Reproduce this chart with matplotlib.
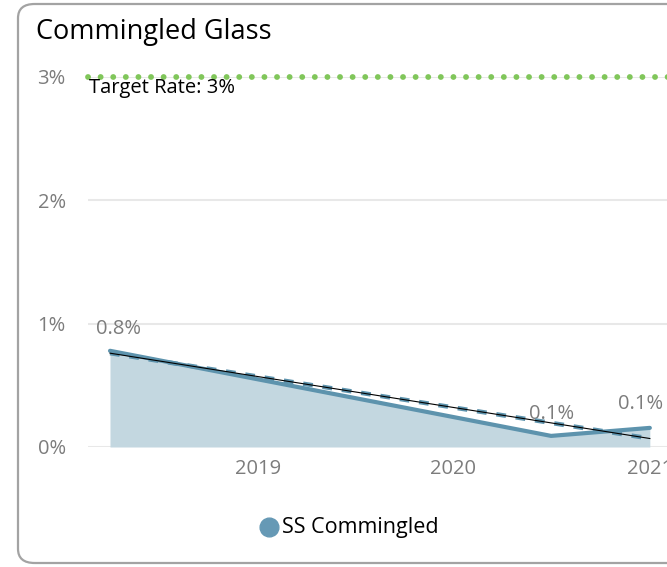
import numpy as np
import pandas as pd
import matplotlib
matplotlib.use("Agg")
import matplotlib.pyplot as plt
import matplotlib.dates as mdates
from matplotlib.patches import FancyBboxPatch

plt.rcParams['font.family'] = ['Open Sans', 'DejaVu Sans']

# data
dates = pd.to_datetime(['2018-04-01', '2020-07-01', '2021-01-01'])
rates = [0.78, 0.09, 0.155]          # percent
point_labels = ['0.8%', '0.1%', '0.1%']
target = 3.0
yticks = [0, 1, 2, 3]
xyears = [2019, 2020, 2021]

line_col = '#5d93ad'
fill_col = '#c3d7e0'
green = '#80c65a'
grey_txt = '#7c7c7c'

W, H = 667, 567
fig = plt.figure(figsize=(W / 100, H / 100), dpi=100)

# card border (runs off the right edge)
card = FancyBboxPatch((18 / W, 4 / H), 700 / W, 559 / H,
                      boxstyle="round,pad=0,rounding_size=0.025",
                      transform=fig.transFigure, fill=False,
                      edgecolor='#a3a3a3', linewidth=1.6, zorder=0)
fig.patches.append(card)

# axes: 196 px per year, left edge at x=88
xl = pd.Timestamp('2018-02-19')
xr = pd.Timestamp('2021-07-01')
width_px = (xr - xl).days / 365.25 * 196
ax = fig.add_axes([88 / W, (H - 447) / H, width_px / W, 370 / H])
ax.set_xlim(xl, xr)
ax.set_ylim(0, 3)

for s in ax.spines.values():
    s.set_visible(False)
ax.set_yticks(yticks)
ax.set_yticklabels([f'{v}%' for v in yticks])
ax.set_xticks([pd.Timestamp(f'{y}-01-01') for y in xyears])
ax.set_xticklabels([str(y) for y in xyears])
ax.tick_params(length=0, labelsize=14.5, colors=grey_txt)
ax.tick_params(axis='x', pad=9)
ax.tick_params(axis='y', pad=16)
ax.grid(axis='y', color='#e8e8e8', linewidth=1.5)
ax.set_axisbelow(True)

# series
ax.fill_between(dates, rates, 0, color=fill_col, linewidth=0, zorder=2)
ax.plot(dates, rates, color=line_col, linewidth=3, zorder=3,
        solid_capstyle='round')

# linear trend
xn = mdates.date2num(dates)
k, b = np.polyfit(xn, rates, 1)
trend = k * xn + b
ax.plot(dates, trend, color=line_col, linewidth=3.2, linestyle=(0, (2.2, 2.2)),
        zorder=4)
ax.plot(dates, trend, color='black', linewidth=0.8, zorder=5)

# target line
ax.axhline(target, color=green, linewidth=4.2, linestyle=(0, (0.01, 2.15)),
           dash_capstyle='round', zorder=6, clip_on=False)
ax.annotate('Target Rate: 3%', xy=(0, target), xycoords=('axes fraction', 'data'),
            xytext=(1, -11), textcoords='offset pixels', ha='left', va='center',
            fontsize=14.5, color='black', zorder=7)

# data labels
offs = [(8, 12), (0, 12), (-9, 14)]
for d, v, t, o in zip(dates, rates, point_labels, offs):
    ax.annotate(t, xy=(d, v), xytext=o, textcoords='offset pixels',
                ha='center', va='bottom', fontsize=14.5, color=grey_txt)

# title
fig.text(36 / W, 1 - 32 / H, 'Commingled Glass', fontsize=19.5, color='black',
         ha='left', va='center')

# legend
fig.add_artist(plt.Line2D([269 / W], [1 - 527 / H], marker='o', markersize=13.5,
                          color='#6699b5', linestyle='none',
                          transform=fig.transFigure))
fig.text(282 / W, 1 - 527 / H, 'SS Commingled', fontsize=15.5, color='black',
         ha='left', va='center')

fig.savefig('out.png', dpi=100)
